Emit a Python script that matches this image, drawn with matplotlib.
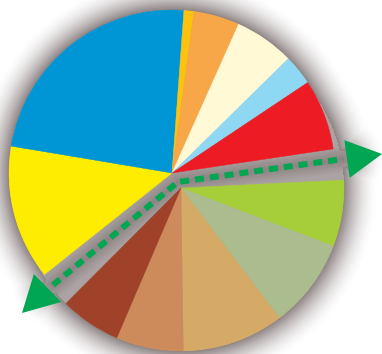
import numpy as np
import matplotlib.pyplot as plt
from matplotlib.patches import Polygon

# upper half of the pie (clockwise from lower-left)
upper_vals = [48.0, 84.7, 3.6, 16.3, 21.4, 10.8, 25.2]
upper_cols = ['#ffed00', '#0096d6', '#fdc20e', '#f7a648', '#fff9d6', '#8fd8f4', '#ed1c24']
# lower half of the pie (clockwise from right)
lower_vals = [23.7, 32.0, 36.3, 24.0, 21.7]
lower_cols = ['#a6ce39', '#abbd8f', '#d4aa66', '#cd8b5c', '#a0412a']

W, H = 382, 354
R = 163
c_up = (172, 181)
c_low = (181, 166)
arrow_path = [(53, 69), (178, 172), (343, 195)]

fig = plt.figure(figsize=(W / 100, H / 100), dpi=100)
ax = fig.add_axes([0, 0, 1, 1])

# blurred shadow behind the pie and along the split
x = np.arange(W) + 0.5
y = np.arange(H) + 0.5
X, Y = np.meshgrid(x, y)
d = np.minimum(np.hypot(X - c_up[0], Y - c_up[1]), np.hypot(X - c_low[0], Y - c_low[1])) - R


def seg_dist(p, q):
    px, py = p
    qx, qy = q
    vx, vy = qx - px, qy - py
    t = np.clip(((X - px) * vx + (Y - py) * vy) / (vx * vx + vy * vy), 0, 1)
    return np.hypot(X - (px + t * vx), Y - (py + t * vy))


line_d = np.minimum(seg_dist(arrow_path[0], arrow_path[1]), seg_dist(arrow_path[1], arrow_path[2]))
d = np.minimum(d, line_d - 8)
alpha = np.clip(1 - d / 34, 0, 1) ** 1.8
# lighter fringe inside the split
alpha = np.where(d < 0, 0.95 - 0.25 * np.clip(line_d / 14, 0, 1), alpha * 0.95)
img = np.zeros((H, W, 4))
img[..., 0] = 0.53
img[..., 1] = 0.49
img[..., 2] = 0.49
img[..., 3] = alpha
ax.imshow(img, extent=[0, W, 0, H], origin='lower', interpolation='bilinear', zorder=0)

wp = dict(linewidth=0.3, antialiased=True)
ax.pie(upper_vals + [360 - sum(upper_vals)], colors=upper_cols + ['none'],
       startangle=218.5, counterclock=False, center=c_up, radius=R,
       wedgeprops=wp, frame=True)
ax.pie(lower_vals + [360 - sum(lower_vals)], colors=lower_cols + ['none'],
       startangle=2.8, counterclock=False, center=c_low, radius=R,
       wedgeprops=wp, frame=True)
for w in ax.patches:
    if w.get_facecolor()[3] > 0:
        w.set_edgecolor(w.get_facecolor())

# dashed green arrow
green = '#00a651'
ax.plot([p[0] for p in arrow_path], [p[1] for p in arrow_path], color=green,
        lw=4.3, dashes=(1.5, 1.0), solid_capstyle='butt', zorder=5)


def head(tip, base, width):
    tx, ty = tip
    bx, by = base
    ux, uy = tx - bx, ty - by
    n = np.hypot(ux, uy)
    nx, ny = -uy / n * width / 2, ux / n * width / 2
    return Polygon([(tx, ty), (bx + nx, by + ny), (bx - nx, by - ny)],
                   closed=True, color=green, lw=0, zorder=6)


ax.add_patch(head((382, 200), (347, 195), 38))
ax.add_patch(head((22, 41), (47.5, 66), 39))

ax.set_xlim(0, W)
ax.set_ylim(0, H)
ax.set_aspect('auto')
ax.axis('off')

fig.savefig('out.png', dpi=100)
